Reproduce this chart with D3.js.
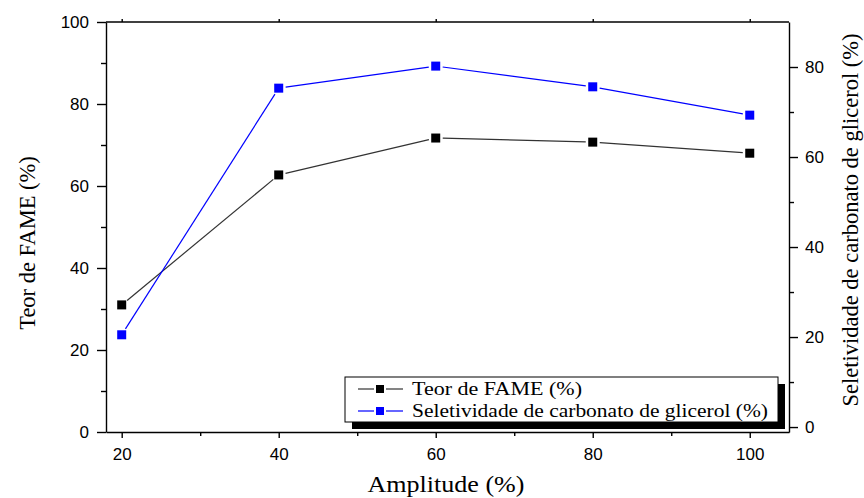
<!DOCTYPE html>
<html>
<head>
<meta charset="utf-8">
<script src="https://cdn.jsdelivr.net/npm/d3@7"></script>
<style>
  body { margin: 0; background: #fff; }
  .tick text { font-family: "Liberation Sans", Arial, sans-serif; font-size: 17px; fill: #000; }
  .domain, .tick line { stroke: #000; stroke-width: 1.4; }
  .title { font-family: "Liberation Serif", "Times New Roman", serif; font-size: 22.5px; fill: #000; }
  .legText { font-family: "Liberation Serif", "Times New Roman", serif; font-size: 19px; fill: #000; }
</style>
</head>
<body>
<script>
var amplitude = [20, 40, 60, 80, 100];
var teorFame = [31.0, 62.7, 71.7, 70.7, 68.0];
var seletividade = [20.5, 75.3, 80.2, 75.6, 69.3];

var xMajor = [20, 40, 60, 80, 100];
var xMinor = [30, 50, 70, 90];
var leftMajor = [0, 20, 40, 60, 80, 100];
var leftMinor = [10, 30, 50, 70, 90];
var rightMajor = [0, 20, 40, 60, 80];
var rightMinor = [10, 30, 50, 70];

var series = [
    { name: "Teor de FAME (%)", values: teorFame, color: "#000", line: "#333", axis: "left" },
    { name: "Seletividade de carbonato de glicerol (%)", values: seletividade, color: "#0000ff", line: "#0000ff", axis: "right" }
];

// styling: rendered widths of the legend labels in the reference
var legendWidths = [170, 356];

var W = 864, H = 498;
var pLeft = 106, pRight = 789, pTop = 22, pBottom = 432;

function display() {
    var svg = d3.select("body").append("svg")
        .attr("width", W)
        .attr("height", H);

    var x = d3.scaleLinear().domain([18, 105]).range([pLeft, pRight]);
    var yL = d3.scaleLinear().domain([0, 100]).range([pBottom, pTop]);
    var yR = d3.scaleLinear().domain([-1.1, 90]).range([pBottom, pTop]);

    // top frame line
    svg.append("line")
        .attr("x1", pLeft).attr("x2", pRight)
        .attr("y1", pTop).attr("y2", pTop)
        .attr("stroke", "#000").attr("stroke-width", 1.4);
    svg.append("g").attr("transform", "translate(0," + pTop + ")")
        .call(d3.axisTop(x).tickValues(xMajor).tickSize(3).tickFormat(""))
        .select(".domain").remove();

    // bottom axis
    svg.append("g").attr("transform", "translate(0," + pBottom + ")")
        .call(d3.axisBottom(x).tickValues(xMajor).tickSize(6).tickPadding(10).tickSizeOuter(0));
    svg.append("g").attr("transform", "translate(0," + pBottom + ")")
        .call(d3.axisBottom(x).tickValues(xMinor).tickSize(4).tickFormat(""))
        .select(".domain").remove();

    // left axis
    svg.append("g").attr("transform", "translate(" + pLeft + ",0)")
        .call(d3.axisLeft(yL).tickValues(leftMajor).tickSize(9).tickPadding(8).tickSizeOuter(0));
    svg.append("g").attr("transform", "translate(" + pLeft + ",0)")
        .call(d3.axisLeft(yL).tickValues(leftMinor).tickSize(5).tickFormat(""))
        .select(".domain").remove();

    // right axis
    svg.append("g").attr("transform", "translate(" + pRight + ",0)")
        .call(d3.axisRight(yR).tickValues(rightMajor).tickSize(9).tickPadding(7).tickSizeOuter(0));
    svg.append("g").attr("transform", "translate(" + pRight + ",0)")
        .call(d3.axisRight(yR).tickValues(rightMinor).tickSize(5).tickFormat(""))
        .select(".domain").remove();

    // series lines (segments stop short of the markers) and markers
    var gap = 7;
    series.forEach(function(s) {
        var y = s.axis === "left" ? yL : yR;
        var pts = amplitude.map(function(a, i) { return [x(a), y(s.values[i])]; });
        var segs = [];
        for (var i = 0; i < pts.length - 1; i++) {
            var dx = pts[i + 1][0] - pts[i][0], dy = pts[i + 1][1] - pts[i][1];
            var len = Math.sqrt(dx * dx + dy * dy);
            segs.push([
                pts[i][0] + dx / len * gap, pts[i][1] + dy / len * gap,
                pts[i + 1][0] - dx / len * gap, pts[i + 1][1] - dy / len * gap
            ]);
        }
        svg.append("g").selectAll("line")
            .data(segs)
            .enter().append("line")
            .attr("x1", function(d) { return d[0]; })
            .attr("y1", function(d) { return d[1]; })
            .attr("x2", function(d) { return d[2]; })
            .attr("y2", function(d) { return d[3]; })
            .attr("stroke", s.line)
            .attr("stroke-width", 1.2);
        svg.append("g").selectAll("rect")
            .data(amplitude)
            .enter().append("rect")
            .attr("x", function(d) { return x(d) - 4.5; })
            .attr("y", function(d, i) { return y(s.values[i]) - 4.5; })
            .attr("width", 9)
            .attr("height", 9)
            .attr("fill", s.color);
    });

    // legend
    var lx = 345, ly = 377, lw = 433, lh = 45;
    svg.append("rect")
        .attr("x", lx + 7).attr("y", ly + 7)
        .attr("width", lw).attr("height", lh)
        .attr("fill", "#000");
    svg.append("rect")
        .attr("x", lx).attr("y", ly)
        .attr("width", lw).attr("height", lh)
        .attr("fill", "#fff").attr("stroke", "#000").attr("stroke-width", 1);
    var leg = svg.append("g").selectAll("g")
        .data(series)
        .enter().append("g")
        .attr("transform", function(d, i) { return "translate(0," + (ly + 12 + i * 22) + ")"; });
    leg.append("line")
        .attr("x1", 358).attr("x2", 374).attr("y1", 0).attr("y2", 0)
        .attr("stroke", function(d) { return d.line; }).attr("stroke-width", 1.2);
    leg.append("line")
        .attr("x1", 386).attr("x2", 403).attr("y1", 0).attr("y2", 0)
        .attr("stroke", function(d) { return d.line; }).attr("stroke-width", 1.2);
    leg.append("rect")
        .attr("x", 376).attr("y", -4).attr("width", 8).attr("height", 8)
        .attr("fill", function(d) { return d.color; });
    leg.append("text")
        .attr("class", "legText")
        .attr("x", 412).attr("y", 6)
        .attr("textLength", function(d, i) { return legendWidths[i]; })
        .attr("lengthAdjust", "spacingAndGlyphs")
        .text(function(d) { return d.name; });

    // axis titles
    svg.append("text").attr("class", "title")
        .attr("x", 446).attr("y", 492)
        .attr("text-anchor", "middle")
        .attr("textLength", 157)
        .attr("lengthAdjust", "spacingAndGlyphs")
        .text("Amplitude (%)");
    svg.append("text").attr("class", "title")
        .attr("transform", "translate(35,243) rotate(-90)")
        .attr("text-anchor", "middle")
        .text("Teor de FAME (%)");
    svg.append("text").attr("class", "title")
        .attr("transform", "translate(858,220) rotate(-90)")
        .attr("text-anchor", "middle")
        .text("Seletividade de carbonato de glicerol (%)");
}

document.addEventListener("DOMContentLoaded", function() {
    display();
});
</script>
</body>
</html>
